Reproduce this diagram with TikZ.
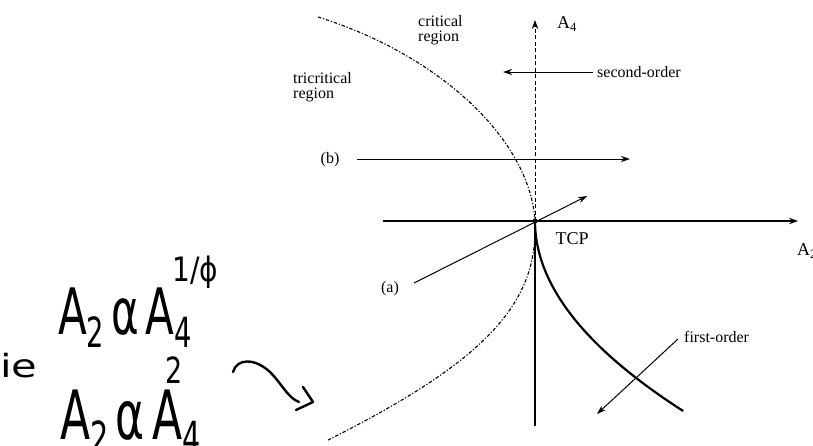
\documentclass[tikz,border=0pt]{standalone}
\usepackage{fontspec}
\usepackage{graphicx}
\setmainfont{Liberation Serif}
\newfontfamily\handfont{DejaVu Sans}
\usetikzlibrary{arrows.meta}
\begin{document}
\begin{tikzpicture}[x=1pt,y=-1pt,
  axis/.style={line width=1.1pt,-{Stealth[length=9pt,width=6.5pt]}},
  probe/.style={line width=1.0pt,-{Stealth[length=9pt,width=6pt]}},
  lbl/.style={font=\fontsize{16}{15}\selectfont, inner sep=0pt, align=left},
  big/.style={font=\fontsize{18}{18}\selectfont, inner sep=0pt},
  bound/.style={line width=1.1pt, dash pattern=on 3.5pt off 1.8pt on 1.2pt off 1.8pt},
  firstline/.style={line width=2.2pt},
  hand/.style={font=\handfont, inner sep=0pt},
  ink/.style={line width=2.4pt, line cap=round, line join=round}
]
\useasboundingbox (0,0) rectangle (813,445);
\clip (0,0) rectangle (813,445);

% key points
\coordinate (tcp) at (535,221);
\coordinate (hL) at (383,221);
\coordinate (hR) at (798,221);
\coordinate (vTop) at (535,20);
\coordinate (vBot) at (535,426);
\coordinate (bndTop) at (318,17);
\coordinate (bndBot) at (328,440);

% phase boundary (dash-dot)
\draw[bound] (bndTop) .. controls (440,55) and (530,140) .. (tcp)
             .. controls (538,300) and (492,358) .. (bndBot);

% axes
\draw[axis] (hL) -- (hR);
\draw[line width=1pt, dash pattern=on 4pt off 2.5pt, -{Stealth[length=9pt,width=6.5pt]}] (tcp) -- (vTop);
\draw[line width=1.1pt] (tcp) -- (vBot);
\fill (tcp) circle (2.6pt);

% axis labels
\node[big, anchor=west] (a4) at (557,24) {A\textsubscript{4}};
\node[big, anchor=west] (a2) at (797,251) {A\textsubscript{2}};
\node[big] (tcplbl) at (572,239) {TCP};

% first-order line
\draw[firstline] plot[domain=221:411, samples=60, variable=\t] ({535+0.0041*(\t-221)*(\t-221)},\t);

% region labels
\node[lbl, anchor=north west] (crit) at (418,15) {critical\\region};
\node[lbl, anchor=north west] (tric) at (293,72) {tricritical\\region};

% second-order probe
\coordinate (so1) at (593,72);
\coordinate (so2) at (503,72);
\draw[probe] (so1) -- (so2);
\node[lbl, anchor=west] (solbl) at (597,72) {second-order};

% (b) probe
\coordinate (b1) at (357,159);
\coordinate (b2) at (630,159);
\draw[probe] (b1) -- (b2);
\node[lbl] (blbl) at (330,160) {(b)};

% (a) probe
\coordinate (a1) at (414,283);
\coordinate (a2p) at (587,196);
\draw[probe] (a1) -- (a2p);
\node[lbl] (albl) at (390,289) {(a)};

% first-order probe
\coordinate (f1) at (678,339);
\coordinate (f2) at (597,414);
\draw[probe] (f1) -- (f2);
\node[lbl, anchor=west] (flbl) at (684,337) {first-order};

% handwritten notes
\node[hand, anchor=west] (h1) at (58,318) {\scalebox{1.05}[1.6]{\fontsize{40}{40}\selectfont A\raisebox{-8pt}{\fontsize{26}{26}\selectfont 2}\,α\,A\raisebox{-8pt}{\fontsize{26}{26}\selectfont 4}}};
\node[hand, anchor=west] (h1s) at (172,272) {\scalebox{1}[1.2]{\fontsize{28}{28}\selectfont 1/ϕ}};
\node[hand, anchor=west] (hie) at (0,366) {\scalebox{1.3}[1.0]{\fontsize{32}{32}\selectfont ie}};
\node[hand, anchor=west] (h2) at (60,422) {\scalebox{1.1}[1.7]{\fontsize{40}{40}\selectfont A\raisebox{-8pt}{\fontsize{26}{26}\selectfont 2}\,α\,A\raisebox{-8pt}{\fontsize{26}{26}\selectfont 4}}};
\node[hand, anchor=south west] (h2s) at (165,384) {\scalebox{0.9}[1.2]{\fontsize{30}{30}\selectfont 2}};

\coordinate (c1) at (233,372);
\coordinate (c2) at (299,402);
\coordinate (ch1) at (303,387);
\coordinate (ch2) at (313,402);
\coordinate (ch3) at (296,410);
\draw[ink] (c1) .. controls (237,358) and (255,358) .. (270,372) .. controls (282,384) and (288,398) .. (c2);
\draw[ink] (ch1) -- (ch2) -- (ch3);
\end{tikzpicture}
\end{document}
